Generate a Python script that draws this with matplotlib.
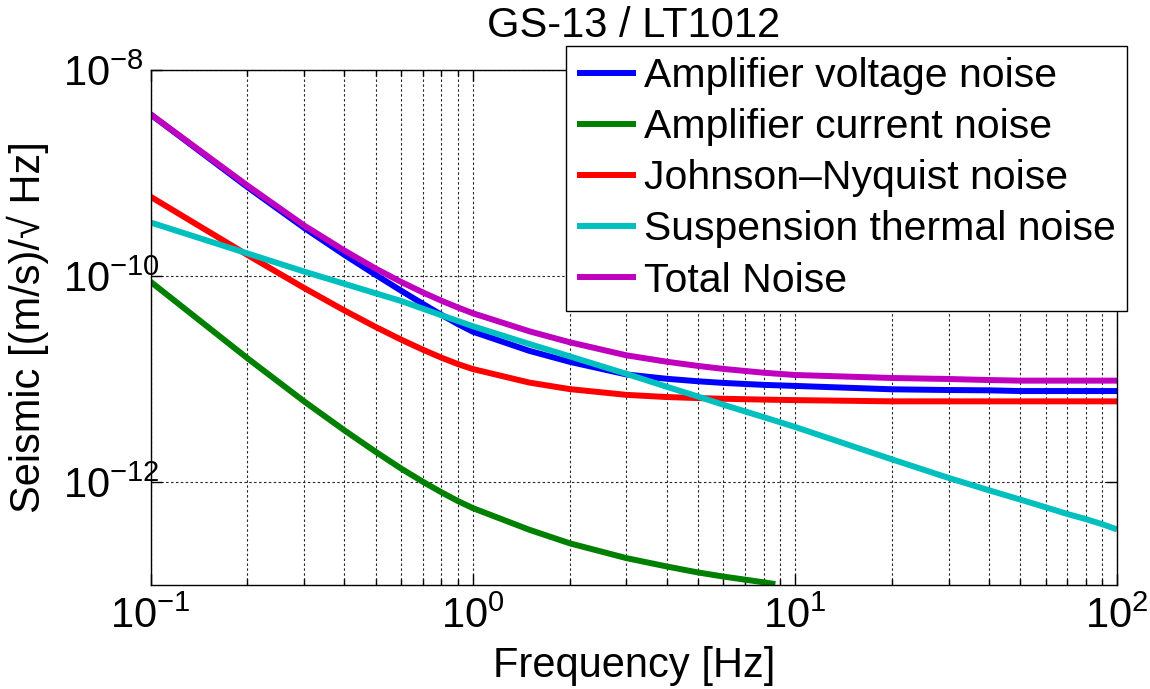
import matplotlib
matplotlib.use("Agg")
import matplotlib.pyplot as plt
from matplotlib.ticker import FixedLocator, FixedFormatter, NullFormatter, NullLocator

plt.rcParams['font.family'] = ['Liberation Sans', 'DejaVu Sans']
plt.rcParams['mathtext.fontset'] = 'custom'
plt.rcParams['mathtext.rm'] = 'Liberation Sans'
plt.rcParams['mathtext.it'] = 'Liberation Sans:italic'
plt.rcParams['mathtext.bf'] = 'Liberation Sans:bold'
plt.rcParams['mathtext.default'] = 'regular'

# ---- data ----
freq = [0.1, 0.2, 0.3, 0.4, 0.5, 0.6, 0.7, 0.8, 0.9, 1, 1.5, 2, 3, 4, 5, 6, 8, 10,
        20, 30, 40, 50, 60, 70, 80, 90, 100]

amp_voltage = [3.715e-9, 7.295e-10, 2.931e-10, 1.603e-10, 1.026e-10, 7.194e-11,
               5.370e-11, 4.198e-11, 3.412e-11, 2.884e-11, 1.875e-11, 1.469e-11,
               1.107e-11, 1.005e-11, 9.506e-12, 9.162e-12, 8.770e-12, 8.570e-12,
               7.943e-12, 7.816e-12, 7.762e-12, 7.638e-12, 7.638e-12, 7.638e-12,
               7.638e-12, 7.638e-12, 7.638e-12]

# current noise: drawn only until it reaches the bottom of the plot (~8.7 Hz)
freq_current = [0.1, 0.2, 0.3, 0.4, 0.5, 0.6, 0.7, 0.8, 0.9, 1, 1.5, 2, 3, 4, 5, 6,
                8, 8.7]
amp_current = [8.810e-11, 1.589e-11, 6.053e-12, 3.170e-12, 1.963e-12, 1.349e-12,
               1.007e-12, 7.943e-13, 6.531e-13, 5.585e-13, 3.436e-13, 2.541e-13,
               1.824e-13, 1.514e-13, 1.324e-13, 1.208e-13, 1.062e-13, 1.02e-13]

johnson = [5.888e-10, 1.600e-10, 7.638e-11, 4.624e-11, 3.199e-11, 2.410e-11,
           1.928e-11, 1.611e-11, 1.396e-11, 1.250e-11, 9.226e-12, 7.980e-12,
           7.015e-12, 6.683e-12, 6.531e-12, 6.427e-12, 6.310e-12, 6.237e-12,
           6.067e-12, 6.067e-12, 6.067e-12, 6.067e-12, 6.067e-12, 6.067e-12,
           6.067e-12, 6.067e-12, 6.067e-12]

suspension = [3.311e-10, 1.656e-10, 1.104e-10, 8.395e-11, 6.792e-11, 5.715e-11,
              4.819e-11, 4.159e-11, 3.656e-11, 3.258e-11, 2.188e-11, 1.660e-11,
              1.122e-11, 8.414e-12, 6.761e-12, 5.623e-12, 4.266e-12, 3.428e-12,
              1.660e-12, 1.096e-12, 8.318e-13, 6.761e-13, 5.689e-13, 4.898e-13,
              4.365e-13, 3.890e-13, 3.467e-13]

total = [3.715e-9, 7.551e-10, 3.090e-10, 1.766e-10, 1.180e-10, 8.750e-11, 6.934e-11,
         5.754e-11, 4.943e-11, 4.355e-11, 2.904e-11, 2.275e-11, 1.698e-11, 1.472e-11,
         1.340e-11, 1.253e-11, 1.151e-11, 1.094e-11, 1.023e-11, 1.000e-11, 9.772e-12,
         9.638e-12, 9.638e-12, 9.638e-12, 9.638e-12, 9.638e-12, 9.638e-12]

series_labels = ['Amplifier voltage noise', 'Amplifier current noise',
                 'Johnson\u2013Nyquist noise', 'Suspension thermal noise', 'Total Noise']
series_colors = ['#0000ff', '#008000', '#ff0000', '#00bfbf', '#bf00bf']

x_ticks = [0.1, 1, 10, 100]
x_tick_labels = [r'$10^{-1}$', r'$10^{0}$', r'$10^{1}$', r'$10^{2}$']
y_ticks = [1e-12, 1e-10, 1e-8]
y_tick_labels = [r'$10^{-12}$', r'$10^{-10}$', r'$10^{-8}$']
x_minor = [m * d for d in (0.1, 1, 10) for m in range(2, 10)]

title = 'GS-13 / LT1012'
xlabel = 'Frequency [Hz]'
ylabel = 'Seismic [(m/s)/\u221a Hz]'

# ---- figure ----
fig = plt.figure(figsize=(11.5, 6.89), dpi=100)
ax = fig.add_axes([150.5 / 1150, 1 - 585 / 689, (1117 - 150.5) / 1150, (585 - 70) / 689])

all_x = [freq, freq_current, freq, freq, freq]
all_series = [amp_voltage, amp_current, johnson, suspension, total]
for xs, ys, lab, col in zip(all_x, all_series, series_labels, series_colors):
    ax.plot(xs, ys, color=col, lw=4.3, label=lab,
            solid_joinstyle='round', solid_capstyle='butt')

ax.set_xscale('log')
ax.set_yscale('log')
ax.set_xlim(0.1, 100)
ax.set_ylim(1e-13, 1e-8)

ax.xaxis.set_major_locator(FixedLocator(x_ticks))
ax.xaxis.set_major_formatter(FixedFormatter(x_tick_labels))
ax.xaxis.set_minor_locator(FixedLocator(x_minor))
ax.xaxis.set_minor_formatter(NullFormatter())
ax.yaxis.set_major_locator(FixedLocator(y_ticks))
ax.yaxis.set_major_formatter(FixedFormatter(y_tick_labels))
ax.yaxis.set_minor_locator(NullLocator())

ax.tick_params(which='both', direction='in', top=True, right=True, width=1.0,
               colors='black', labelsize=30)
ax.tick_params(which='major', length=8)
ax.tick_params(which='minor', length=4)
ax.tick_params(axis='x', which='major', pad=8)
ax.tick_params(axis='y', which='major', pad=63)
for lbl in ax.get_yticklabels():
    lbl.set_horizontalalignment('left')

ax.grid(True, which='major', axis='both', color='0.15', linestyle=(0, (2.2, 2.2)), lw=0.8)
ax.grid(True, which='minor', axis='x', color='0.15', linestyle=(0, (2.2, 2.2)), lw=0.8)
for sp in ax.spines.values():
    sp.set_linewidth(1.0)
    sp.set_color('black')

ax.set_title(title, fontsize=30, pad=24)
ax.set_xlabel(xlabel, fontsize=30, labelpad=7)
ax.set_ylabel(ylabel, fontsize=30)
ax.yaxis.set_label_coords(-0.105, 0.5)

leg = ax.legend(loc='upper right', bbox_to_anchor=(1127 / 1150, 1 - 46 / 689),
                bbox_transform=fig.transFigure, fontsize=29.5, frameon=True,
                fancybox=False, framealpha=1, edgecolor='black', borderpad=0.27,
                labelspacing=0.32, handlelength=1.43, handletextpad=0.2,
                borderaxespad=0)
leg.get_frame().set_linewidth(1.0)
for h in leg.get_lines():
    h.set_linewidth(4.3)

fig.savefig('out.png', dpi=100)
